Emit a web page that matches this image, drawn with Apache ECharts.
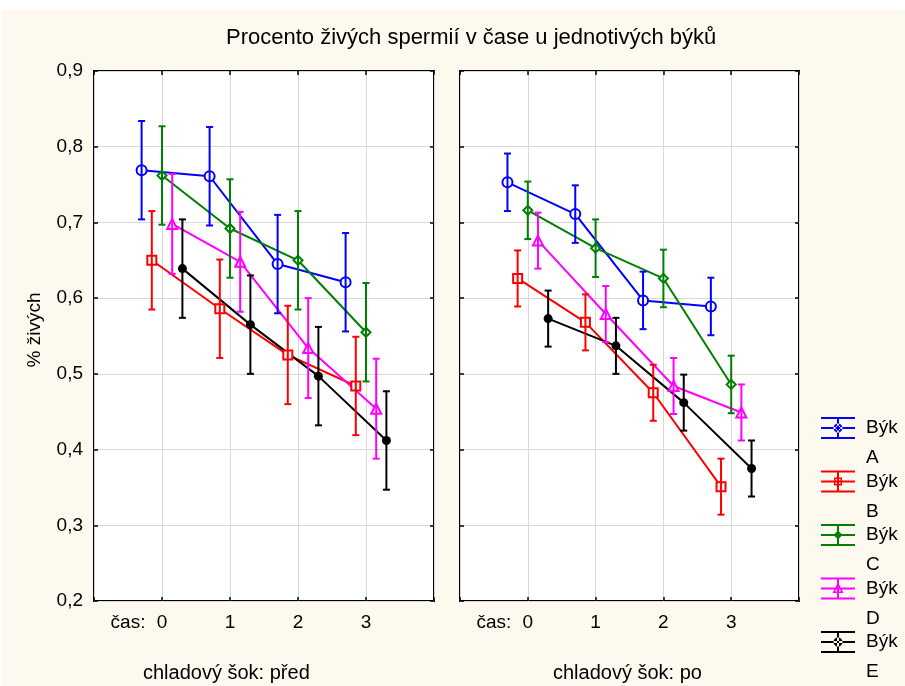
<!DOCTYPE html>
<html>
<head>
<meta charset="utf-8">
<script src="https://cdn.jsdelivr.net/npm/echarts@6/dist/echarts.min.js"></script>
<style>
  html, body { margin: 0; padding: 0; background: #fff; }
  #chart { width: 905px; height: 686px; }
</style>
</head>
<body>
<div id="chart"></div>
<script>
// data
const times = [0, 1, 2, 3];
const bulls = ['Býk A', 'Býk B', 'Býk C', 'Býk D', 'Býk E'];
const panels = ['chladový šok: před', 'chladový šok: po'];

// before cold shock (před)
const predA = [0.769, 0.761, 0.645, 0.621];
const predB = [0.650, 0.586, 0.525, 0.484];
const predC = [0.762, 0.692, 0.650, 0.555];
const predD = [0.698, 0.648, 0.534, 0.454];
const predE = [0.639, 0.565, 0.497, 0.412];
const predErr = [0.065, 0.065, 0.065, 0.066, 0.065];

// after cold shock (po)
const poA = [0.753, 0.711, 0.597, 0.589];
const poB = [0.626, 0.568, 0.475, 0.351];
const poC = [0.716, 0.666, 0.626, 0.486];
const poD = [0.676, 0.579, 0.484, 0.449];
const poE = [0.573, 0.537, 0.462, 0.375];
const poErr = [0.038, 0.037, 0.038, 0.037, 0.037];

const yMin = 0.2, yMax = 0.9, yStep = 0.1;

const means = [[predA, predB, predC, predD, predE], [poA, poB, poC, poD, poE]];
const errs = [predErr, poErr];

// styling
const colors = ['#0000ff', '#ff0000', '#008000', '#ff00ff', '#000000'];
const symbols = ['emptyCircle', 'emptyRect', 'emptyDiamond', 'emptyTriangle', 'circle'];
const symbolSizes = [10, 9, 9, 10, 9];
const offsets = [-0.3, -0.15, 0, 0.15, 0.3];
const font = "'Liberation Sans', Arial, sans-serif";

const bars = 'M0 0H34V2H0Z M0 10H34V12H0Z M0 20H34V22H0Z M16 0H18V22H16Z ';
const legendIcons = [
    'path://' + bars + 'M12.5 11A4.5 4.5 0 1 0 21.5 11A4.5 4.5 0 1 0 12.5 11Z M14.5 11A2.5 2.5 0 1 1 19.5 11A2.5 2.5 0 1 1 14.5 11Z',
    'path://' + bars + 'M13 7H21V15H13Z M14.5 8.5V13.5H19.5V8.5Z',
    'path://' + bars + 'M17 6.5L21.5 11L17 15.5L12.5 11Z',
    'path://' + bars + 'M17 5L22.5 15.5H11.5Z M17 8.5L14 14H20Z',
    'path://' + bars + 'M12.5 11A4.5 4.5 0 1 0 21.5 11A4.5 4.5 0 1 0 12.5 11Z'
];
const legendTops = [383, 436.5, 490, 543.5, 597];

function renderErr(params, api) {
    const x = api.value(0);
    const top = api.coord([x, api.value(2)]);
    const bot = api.coord([x, api.value(1)]);
    const w = 3.5;
    const style = { stroke: api.visual('color'), lineWidth: 2 };
    return {
        type: 'group',
        children: [
            { type: 'line', shape: { x1: top[0], y1: top[1], x2: bot[0], y2: bot[1] }, style: style },
            { type: 'line', shape: { x1: top[0] - w, y1: top[1], x2: top[0] + w, y2: top[1] }, style: style },
            { type: 'line', shape: { x1: bot[0] - w, y1: bot[1], x2: bot[0] + w, y2: bot[1] }, style: style }
        ]
    };
}

const gridBox = { show: true, borderColor: '#000', borderWidth: 2, backgroundColor: '#fff', top: 71, height: 530 };
const grids = [
    Object.assign({ left: 94, width: 340 }, gridBox),
    Object.assign({ left: 460, width: 339 }, gridBox)
];

const tick = { inside: true, length: 4, lineStyle: { color: '#000', width: 1.5 } };
const xAxes = [];
const yAxes = [];
const series = [];

panels.forEach(function (p, g) {
    // bottom axis with labels
    xAxes.push({
        type: 'value', gridIndex: g, position: 'bottom',
        min: -1, max: 4, interval: 1,
        axisLine: { show: false, onZero: false },
        axisTick: tick,
        splitLine: { lineStyle: { color: '#d8d8d8', width: 1 } },
        axisLabel: {
            customValues: [-0.5, 0, 1, 2, 3],
            formatter: function (v) { return v < 0 ? 'čas:' : String(v); },
            color: '#000', fontSize: 19, fontFamily: font, margin: 12
        }
    });
    // top axis, ticks only
    xAxes.push({
        type: 'value', gridIndex: g, position: 'top',
        min: -1, max: 4, interval: 1,
        axisLine: { show: false, onZero: false },
        axisTick: tick,
        splitLine: { show: false },
        axisLabel: { show: false }
    });
    yAxes.push({
        type: 'value', gridIndex: g, position: 'left',
        min: yMin, max: yMax, interval: yStep,
        name: g === 0 ? '% živých' : '',
        nameLocation: 'middle', nameGap: 50,
        nameTextStyle: { color: '#000', fontSize: 19, fontFamily: font, padding: [0, 0, 0, 12] },
        axisLine: { show: false, onZero: false },
        axisTick: tick,
        splitLine: { lineStyle: { color: '#d8d8d8', width: 1 } },
        axisLabel: {
            show: g === 0,
            formatter: function (v) { return v.toFixed(1).replace('.', ','); },
            color: '#000', fontSize: 19, fontFamily: font, margin: 11
        }
    });
    yAxes.push({
        type: 'value', gridIndex: g, position: 'right',
        min: yMin, max: yMax, interval: yStep,
        axisLine: { show: false, onZero: false },
        axisTick: tick,
        splitLine: { show: false },
        axisLabel: { show: false }
    });

    bulls.forEach(function (name, k) {
        const vals = means[g][k];
        const e = errs[g][k];
        series.push({
            name: name,
            type: 'line',
            xAxisIndex: g * 2, yAxisIndex: g * 2,
            data: times.map(function (t, i) { return [t + offsets[k], vals[i]]; }),
            symbol: symbols[k],
            symbolSize: symbolSizes[k],
            color: colors[k],
            lineStyle: { width: 2, color: colors[k] },
            itemStyle: { color: colors[k], borderWidth: 2 },
            z: 3
        });
        series.push({
            name: name,
            type: 'custom',
            xAxisIndex: g * 2, yAxisIndex: g * 2,
            renderItem: renderErr,
            encode: { x: 0, y: [1, 2] },
            itemStyle: { color: colors[k] },
            data: times.map(function (t, i) { return [t + offsets[k], vals[i] - e, vals[i] + e]; }),
            z: 4
        });
    });
});

const legends = bulls.map(function (name, k) {
    return {
        data: [{ name: name, icon: legendIcons[k] }],
        left: 821, top: legendTops[k],
        padding: 0,
        itemWidth: 34, itemHeight: 22,
        // empty first line so that "Býk" sits level with the icon
        formatter: function (n) { return '\n' + n.replace(' ', '\n'); },
        textStyle: { color: '#000', fontSize: 19, fontFamily: font, lineHeight: 30, padding: [0, 0, 0, 6] }
    };
});

const titleText = { color: '#000', fontWeight: 'normal', fontFamily: font };

const chart = echarts.init(document.getElementById('chart'));
chart.setOption({
    animation: false,
    backgroundColor: '#fff',
    graphic: [{
        type: 'rect', z: -10, silent: true,
        shape: { x: 2, y: 10, width: 903, height: 676 },
        style: { fill: '#fdf9ef' }
    }],
    title: [
        { text: 'Procento živých spermií v čase u jednotivých býků', left: 221, top: 22,
          textStyle: Object.assign({ fontSize: 22 }, titleText) },
        { text: panels[0], left: 138, top: 658,
          textStyle: Object.assign({ fontSize: 20 }, titleText) },
        { text: panels[1], left: 548, top: 658,
          textStyle: Object.assign({ fontSize: 20 }, titleText) }
    ],
    legend: legends,
    grid: grids,
    xAxis: xAxes,
    yAxis: yAxes,
    series: series
});
</script>
</body>
</html>
